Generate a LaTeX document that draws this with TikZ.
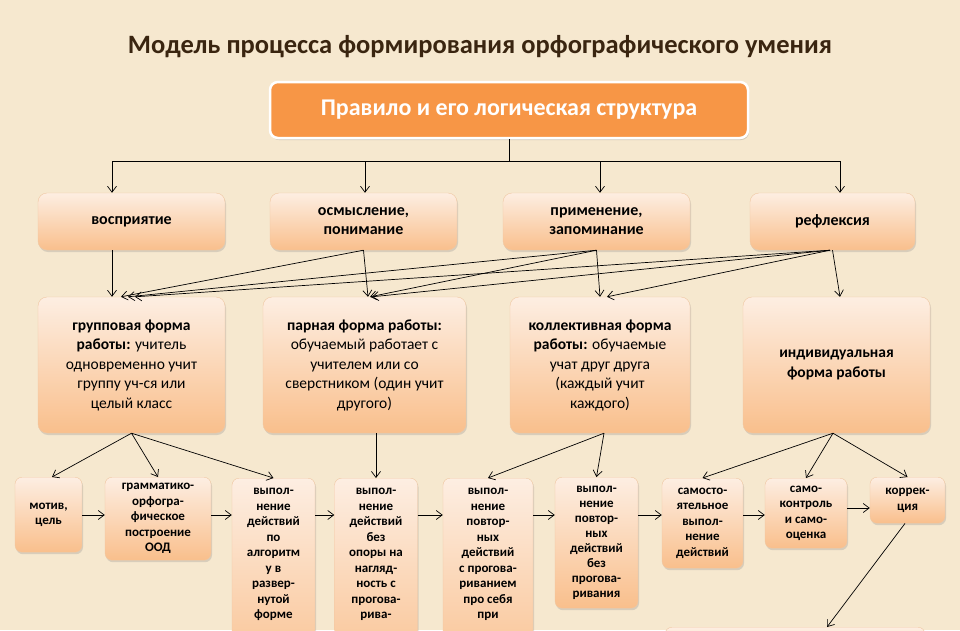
\documentclass[tikz,border=0pt]{standalone}
\usepackage{fontspec}
\setmainfont{Carlito}
\usetikzlibrary{shadows,arrows.meta}

\definecolor{parchment}{HTML}{F6E8CF}
\definecolor{peachtop}{HTML}{FDEEE2}
\definecolor{peachbot}{HTML}{F9BF8C}
\definecolor{peachline}{HTML}{EFC7A2}
\definecolor{rulefill}{HTML}{F79646}
\definecolor{titlebrown}{HTML}{3A2510}

\tikzset{
  >={Straight Barb[length=6pt, width=9pt]},
  peach/.style={rounded corners=9pt, top color=peachtop, bottom color=peachbot,
    draw=peachline, drop shadow={opacity=0.25, shadow xshift=1pt, shadow yshift=-2pt}},
  stage/.style={peach, minimum width=187pt, minimum height=57pt, align=center,
    font=\bfseries\fontsize{16}{19}\selectfont},
  form/.style={peach, minimum height=136pt, align=center,
    font=\fontsize{15.5}{19.5}\selectfont},
  stepbox/.style={peach, rounded corners=7pt, anchor=north, align=center, inner xsep=2pt,
    font=\bfseries\fontsize{13}{15.5}\selectfont},
  link/.style={->, black, line width=0.7pt}
}

\begin{document}
\begin{tikzpicture}[x=1pt, y=-1pt]
  \useasboundingbox (0, 0) rectangle (960, 630);
  \clip (0, 0) rectangle (960, 630);
  \fill [parchment] (0, 0) rectangle (960, 630);
  %Title
  \node [text=titlebrown, font=\bfseries\fontsize{26.5}{30}\selectfont] (title) at (480, 47)
    {Модель процесса формирования орфографического умения};
  %Rule
  \node [draw=white, line width=2.5pt, fill=rulefill, rounded corners=8pt,
    minimum width=478pt, minimum height=56pt, text=white,
    font=\bfseries\fontsize{24}{27}\selectfont,
    drop shadow={opacity=0.3, shadow xshift=1pt, shadow yshift=-2pt}] (rule) at (509, 110)
    {Правило и его логическая структура};
  %Stages
  \node [stage] (percept) at (131.5, 221.5) {восприятие};
  \node [stage] (grasp) at (363.5, 221.5) {осмысление,\\понимание};
  \node [stage] (apply) at (596.5, 221.5) {применение,\\запоминание};
  \node [stage, minimum width=165pt] (reflect) at (832.5, 221.5) {рефлексия};
  %Forms of work
  \node [form, minimum width=187pt] (group) at (131.5, 365)
    {\textbf{групповая форма}\\\textbf{работы:} учитель\\одновременно учит\\группу уч-ся или\\целый класс};
  \node [form, minimum width=203pt] (pair) at (364.5, 365)
    {\textbf{парная форма работы:}\\обучаемый работает с\\учителем или со\\сверстником (один учит\\другого)};
  \node [form, minimum width=180pt] (coll) at (600, 365)
    {\textbf{коллективная форма}\\\textbf{работы:} обучаемые\\учат друг друга\\(каждый учит\\каждого)};
  \node [form, minimum width=187pt] (indiv) at (836.5, 365)
    {\textbf{индивидуальная}\\\textbf{форма работы}};
  %Steps
  \node [stepbox, minimum width=67pt, minimum height=75pt] (motive) at (48.5, 477) {мотив,\\цель};
  \node [stepbox, minimum width=106pt, minimum height=83pt] (grammar) at (158, 477)
    {грамматико-\\орфогра-\\фическое\\построение\\ООД};
  \node [stepbox, minimum width=83pt, inner ysep=10pt, text depth=60pt] (algo) at (273.5, 478)
    {выпол-\\нение\\действий\\по\\алгоритм\\у в\\развер-\\нутой\\форме};
  \node [stepbox, minimum width=83pt, inner ysep=10pt, text depth=60pt] (noopt) at (376, 478)
    {выпол-\\нение\\действий\\без\\опоры на\\нагляд-\\ность с\\прогова-\\рива-};
  \node [stepbox, minimum width=90pt, inner ysep=10pt, text depth=60pt] (aloud) at (488, 478)
    {выпол-\\нение\\повтор-\\ных\\действий\\с прогова-\\риванием\\про себя\\при};
  \node [stepbox, minimum width=83pt, minimum height=131pt,
    font=\bfseries\fontsize{13}{15}\selectfont] (silent) at (596.5, 477)
    {выпол-\\нение\\повтор-\\ных\\действий\\без\\прогова-\\ривания};
  \node [stepbox, minimum width=81pt, minimum height=90pt] (alone) at (702.5, 478)
    {самосто-\\ятельное\\выпол-\\нение\\действий};
  \node [stepbox, minimum width=82pt, minimum height=70pt] (check) at (806, 478)
    {само-\\контроль\\и само-\\оценка};
  \node [stepbox, minimum width=75pt, minimum height=46pt] (corr) at (907.5, 477) {коррек-\\ция};
  \node [stepbox, minimum width=260pt, minimum height=60pt] (final) at (795, 627) {};
  %Rule -> stages
  \coordinate (fork) at (rule.south |- 0, 161);
  \draw [black, line width=0.7pt] (rule.south) -- (fork);
  \draw [black, line width=0.7pt] ([xshift=-19.5pt]percept.north |- fork) -- ([xshift=7.5pt]reflect.north |- fork);
  \draw [link] ([xshift=-19.5pt]percept.north |- fork) -- ([xshift=-19.5pt]percept.north);
  \draw [link] ([xshift=1.5pt]grasp.north |- fork) -- ([xshift=1.5pt]grasp.north);
  \draw [link] ([xshift=3.5pt]apply.north |- fork) -- ([xshift=3.5pt]apply.north);
  \draw [link] ([xshift=7.5pt]reflect.north |- fork) -- ([xshift=7.5pt]reflect.north);
  %Stages -> forms
  \draw [link] ([xshift=-19.5pt]percept.south) -- ([xshift=-19.5pt]group.north);
  \draw [link] (grasp.south) -- ([xshift=-10.5pt]group.north);
  \draw [link] (grasp.south) -- ([xshift=3.5pt]pair.north);
  \draw [link] (apply.south) -- ([xshift=-3.5pt]group.north);
  \draw [link] (apply.south) -- ([xshift=5.5pt]pair.north);
  \draw [link] (apply.south) -- (coll.north);
  \draw [link] ([xshift=-2.5pt]reflect.south) -- ([xshift=3.5pt]group.north);
  \draw [link] ([xshift=-2.5pt]reflect.south) -- ([xshift=7.5pt]pair.north);
  \draw [link] ([xshift=-2.5pt]reflect.south) -- ([xshift=7pt]coll.north);
  \draw [link] (reflect.south) -- ([xshift=3.5pt]indiv.north);
  %Forms -> steps
  \draw [link] (group.south) -- ([xshift=3.5pt]motive.north);
  \draw [link] (group.south) -- (grammar.north);
  \draw [link] (group.south) -- (algo.north);
  \draw [link] (noopt.north |- pair.south) -- (noopt.north);
  \draw [link] ([xshift=4pt]coll.south) -- (aloud.north);
  \draw [link] ([xshift=4pt]coll.south) -- (silent.north);
  \draw [link] ([xshift=-3.5pt]indiv.south) -- (alone.north);
  \draw [link] ([xshift=-3.5pt]indiv.south) -- (check.north);
  \draw [link] ([xshift=-3.5pt]indiv.south) -- (corr.north);
  %Chain of steps
  \draw [link] (motive.east |- 0, 515) -- (grammar.west |- 0, 515);
  \draw [link] (grammar.east |- 0, 515) -- (algo.west |- 0, 515);
  \draw [link] (algo.east |- 0, 515) -- (noopt.west |- 0, 515);
  \draw [link] (noopt.east |- 0, 515) -- (aloud.west |- 0, 515);
  \draw [link] (aloud.east |- 0, 515) -- (silent.west |- 0, 515);
  \draw [link] (silent.east |- 0, 515) -- (alone.west |- 0, 515);
  \draw [link] (alone.east |- 0, 515) -- (check.west |- 0, 515);
  \draw [link] (check.east |- 0, 508) -- (corr.west |- 0, 508);
  %Correction
  \draw [link] ([xshift=-2.5pt]corr.south) -- ([xshift=32pt]final.north);
\end{tikzpicture}
\end{document}
